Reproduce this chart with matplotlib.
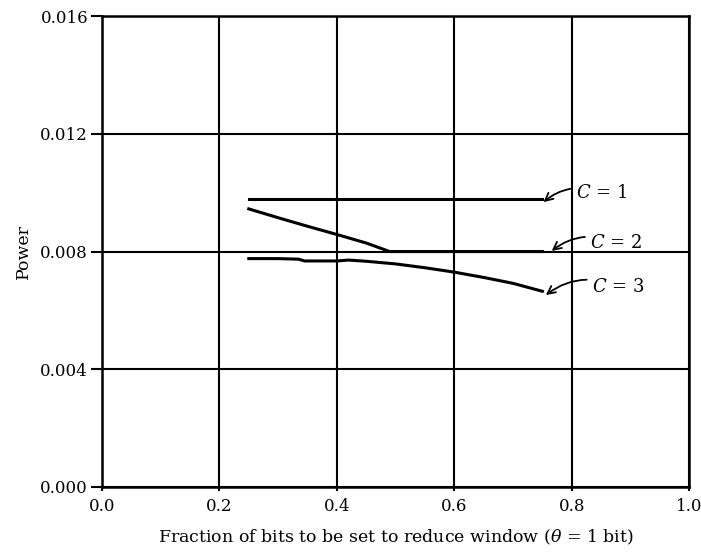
import matplotlib
matplotlib.use("Agg")
import matplotlib.pyplot as plt

# Data
c1_x = [0.25, 0.75]
c1_y = [0.00980, 0.00980]

c2_x = [0.25, 0.30, 0.35, 0.40, 0.45, 0.49, 0.55, 0.65, 0.75]
c2_y = [0.00945, 0.00915, 0.00886, 0.00858, 0.00829, 0.00800, 0.00800, 0.00800, 0.00800]

c3_x = [0.25, 0.30, 0.335, 0.345, 0.40, 0.42, 0.45, 0.50, 0.55, 0.60, 0.65, 0.70, 0.75]
c3_y = [0.00776, 0.00776, 0.00774, 0.00768, 0.00768, 0.00771, 0.00767, 0.00758, 0.00745, 0.00730, 0.00712, 0.00692, 0.00665]

labels = ["$C$ = 1", "$C$ = 2", "$C$ = 3"]
label_pos = [(0.807, 0.0100), (0.832, 0.0083), (0.835, 0.00680)]
tip_pos = [(0.752, 0.00968), (0.766, 0.00802), (0.756, 0.00652)]

xticks = [0.0, 0.2, 0.4, 0.6, 0.8, 1.0]
yticks = [0.000, 0.004, 0.008, 0.012, 0.016]

plt.rcParams['font.family'] = ['DejaVu Serif']
plt.rcParams['mathtext.fontset'] = 'dejavuserif'

fig = plt.figure(figsize=(7.01, 5.59), dpi=100)
ax = fig.add_axes([0.1455, 0.129, 0.8375, 0.842])

ax.set_xlim(0, 1.0)
ax.set_ylim(0, 0.016)
ax.set_xticks(xticks)
ax.set_yticks(yticks)
ax.set_xticklabels([f"{v:.1f}" for v in xticks])
ax.set_yticklabels([f"{v:.3f}" for v in yticks])
ax.grid(True, color='black', linewidth=1.5)
ax.set_axisbelow(True)
for s in ax.spines.values():
    s.set_linewidth(1.8)
ax.tick_params(axis='y', direction='out', length=8, width=1.5, labelsize=12, pad=2)
ax.tick_params(axis='x', direction='out', length=3, width=1.5, labelsize=12, pad=5)

ax.plot(c1_x, c1_y, color='black', lw=2.2)
ax.plot(c2_x, c2_y, color='black', lw=2.2)
ax.plot(c3_x, c3_y, color='black', lw=2.2)

for lab, (tx, ty), (px, py) in zip(labels, label_pos, tip_pos):
    ax.annotate(lab, xy=(px, py), xytext=(tx, ty), ha='left', va='center',
                fontsize=13,
                arrowprops=dict(arrowstyle='->', color='black', lw=1.3,
                                connectionstyle='arc3,rad=0.3',
                                shrinkA=2, shrinkB=0, mutation_scale=14))

ax.set_xlabel(r"Fraction of bits to be set to reduce window ($\theta$ = 1 bit)", fontsize=12.5, labelpad=9)
ax.set_ylabel("Power", fontsize=12.5, labelpad=6)

fig.savefig("out.png", dpi=100)
